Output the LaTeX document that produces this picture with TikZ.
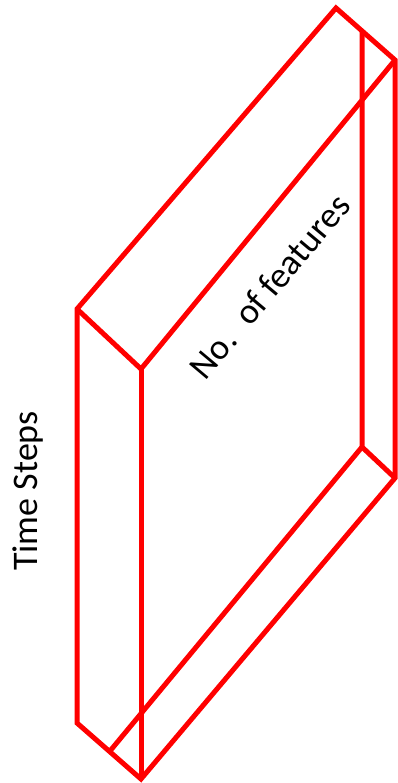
\documentclass[tikz,border=0pt]{standalone}
\usepackage{xcolor}
\usepackage{fontspec}
\setmainfont{Carlito}
\usepackage{tikz}
\usetikzlibrary{calc,positioning}
\definecolor{BoxRed}{HTML}{FF0000}
\tikzset{
  BL/.style={draw=BoxRed,line width=5pt},
  LB/.style={font=\fontsize{36}{42}\selectfont,text=black,inner sep=0pt}
}

\begin{document}
\begin{tikzpicture}[x=1pt,y=-1pt]
  \useasboundingbox (0,0) rectangle (398,783);
  \coordinate (ftl) at (77,309);
  \coordinate (ftr) at (141,369);
  \coordinate (fbl) at (77,723);
  \coordinate (fbr) at (141,779);
  \coordinate (btl) at (336,8);
  \coordinate (btr) at (395,60);
  \coordinate (bbr) at (395,478);
  \coordinate (itop) at (362,31);
  \coordinate (ibot) at (362,447);
  \coordinate (ilow) at (110,751);

  \draw[BL](ftl)--(btl)--(btr)--(bbr)--(fbr)--(fbl)--cycle;
  \draw[BL](ftl)--(ftr)--(btr);
  \draw[BL](ftr)--(fbr);
  \draw[BL](itop)--(ibot)--(bbr);
  \draw[BL](ibot)--(ilow);

  \node[LB,rotate=90,anchor=base] (ts) at (37,491) {Time Steps};
  \node[LB,rotate=50,anchor=base] (nf) at (279,294) {No.\hspace{0.2em} of features};
\end{tikzpicture}
\end{document}
